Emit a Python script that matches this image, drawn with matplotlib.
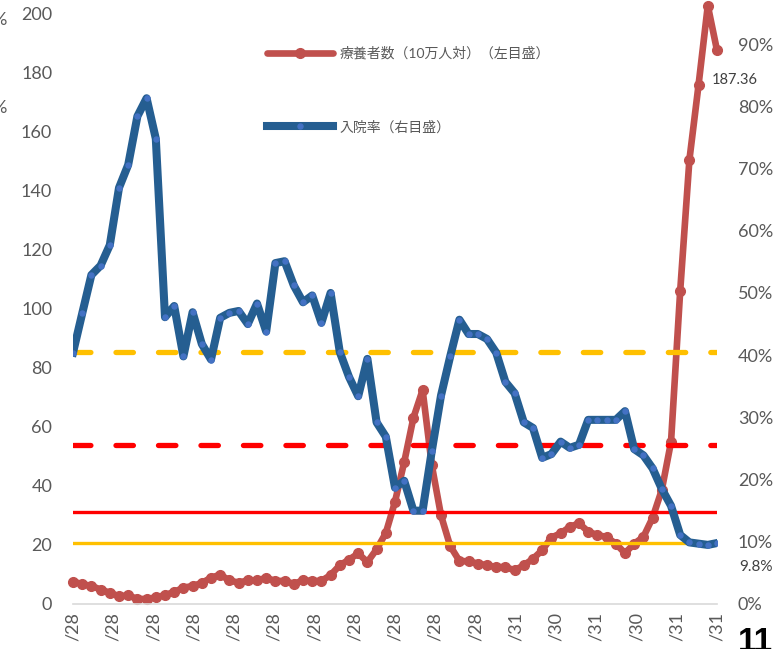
import matplotlib

matplotlib.use("Agg")

import matplotlib.pyplot as plt
import numpy as np
from matplotlib.ticker import FuncFormatter, MultipleLocator

plt.rcParams["font.family"] = ["Lato", "Noto Sans CJK JP", "DejaVu Sans"]

# 療養者数（10万人対）, weekly, left axis
patients = [
    7.6, 6.7, 6.1, 4.9, 3.8, 2.6, 2.9, 1.7, 1.7, 2.2,
    3.0, 4.1, 5.5, 6.1, 7.1, 8.9, 9.9, 8.0, 7.2, 8.0,
    8.0, 8.8, 7.8, 7.8, 6.8, 8.0, 7.8, 7.8, 9.8, 13.1,
    15.0, 17.1, 14.2, 18.5, 24.0, 34.6, 48.0, 63.0, 72.4, 47.0,
    30.0, 19.6, 14.6, 14.4, 13.7, 13.1, 12.5, 12.5, 11.4, 13.1,
    15.3, 18.2, 22.5, 23.9, 26.1, 27.3, 24.5, 23.3, 22.7, 20.4,
    17.2, 20.4, 22.7, 29.2, 38.6, 54.8, 106.0, 150.3, 175.8, 202.5,
    187.36,
]

# 入院率 (%), weekly, right axis
admission = [
    40.4, 46.7, 52.9, 54.4, 57.7, 66.9, 70.6, 78.4, 81.3, 74.8,
    46.1, 47.9, 39.8, 46.9, 41.8, 39.3, 46.0, 46.8, 47.1, 45.0,
    48.3, 43.8, 54.8, 55.1, 51.2, 48.5, 49.6, 45.2, 50.0, 40.5,
    36.5, 33.4, 39.4, 29.2, 26.9, 18.7, 19.8, 15.0, 15.0, 24.6,
    33.5, 39.8, 45.7, 43.4, 43.4, 42.6, 40.4, 35.7, 33.9, 29.2,
    28.3, 23.5, 24.1, 26.1, 25.1, 25.6, 29.6, 29.6, 29.6, 29.6,
    31.0, 24.9, 23.9, 21.8, 18.5, 15.8, 11.1, 9.9, 9.7, 9.5,
    9.8,
]

tick_labels = ["/28"] * 11 + ["/31", "/30", "/31", "/30", "/31", "/31"]

# reference lines (right axis, %)
yellow_dash = 40.5
red_dash = 25.5
red_solid = 14.8
yellow_solid = 9.8

RED = "#C0504D"
BLUE = "#255E91"
BLUE_DOT = "#4472C4"
GRAY = "#595959"

x = np.arange(len(patients))
adm = np.array(admission) / 100

fig = plt.figure(figsize=(7.83, 6.49), dpi=100)
ax = fig.add_axes([73 / 783, 1 - 604 / 649, 644 / 783, 591 / 649])
ax2 = ax.twinx()

red_line, = ax.plot(x, patients, color=RED, lw=4.8, marker="o", ms=7,
                    mfc=RED, mec=RED, solid_joinstyle="round",
                    solid_capstyle="round", clip_on=False,
                    label="療養者数（10万人対）（左目盛）")

for val, col, solid in [(yellow_dash, "#FFC000", False), (red_dash, "#FF0000", False),
                        (red_solid, "#FF0000", True), (yellow_solid, "#FFC000", True)]:
    if solid:
        ax2.axhline(val / 100, color=col, lw=2.4, zorder=1)
    else:
        ax2.axhline(val / 100, color=col, lw=3.8, dashes=(3.3, 4.75),
                    dash_capstyle="round", zorder=1)

blue_line, = ax2.plot(x, adm, color=BLUE, lw=5.8, marker="o", ms=3.6,
                      mfc=BLUE_DOT, mec=BLUE_DOT, solid_joinstyle="round",
                      zorder=3, label="入院率（右目盛）")

ax.set_xlim(0, len(patients) - 1)
ax.set_ylim(0, 200)
ax2.set_ylim(0, 0.95)
ax.yaxis.set_major_locator(MultipleLocator(20))
ax2.yaxis.set_major_locator(MultipleLocator(0.1))
ax2.yaxis.set_major_formatter(FuncFormatter(lambda v, p: f"{v * 100:.0f}%"))

ax.set_xticks(np.linspace(0, len(patients) - 1, len(tick_labels)))
ax.set_xticklabels(tick_labels, rotation=90)

for a in (ax, ax2):
    for s in a.spines.values():
        s.set_visible(False)
    a.tick_params(length=0, colors=GRAY, labelsize=13)
ax.tick_params(axis="y", pad=15)
ax2.tick_params(axis="y", pad=15)
ax.tick_params(axis="x", pad=6)
ax.spines["bottom"].set_visible(True)
ax.spines["bottom"].set_color("#D9D9D9")
ax.spines["bottom"].set_linewidth(1.2)

ax2.legend([red_line, blue_line], [red_line.get_label(), blue_line.get_label()],
           loc="upper left", bbox_to_anchor=(267 / 783, 1 - 46 / 649),
           bbox_transform=fig.transFigure, frameon=False, fontsize=10,
           handlelength=4.75, handletextpad=0.5, labelspacing=4.35,
           borderpad=0, borderaxespad=0, numpoints=1, labelcolor=GRAY)

# data labels for the latest week
ax.annotate(f"{patients[-1]:.2f}", (x[-1], patients[-1]), xytext=(13, -21),
            textcoords="offset points", ha="center", va="center",
            fontsize=10.5, color="#404040", annotation_clip=False)
ax2.annotate(f"{admission[-1]:.1f}%", (x[-1], adm[-1]), xytext=(28, -17),
             textcoords="offset points", ha="center", va="center",
             fontsize=11, color="#404040", annotation_clip=False)

# bits of neighbouring content cut by the crop
fig.text(7 / 783, 1 - 20 / 649, "%", ha="right", va="center", fontsize=13, color=GRAY)
fig.text(7 / 783, 1 - 108 / 649, "%", ha="right", va="center", fontsize=13, color=GRAY)
fig.text(755 / 783, 1 - 627 / 649, "11", ha="center", va="top", fontsize=24,
         fontweight="bold", color="black", family="Liberation Sans")

fig.savefig("out.png", dpi=100)
